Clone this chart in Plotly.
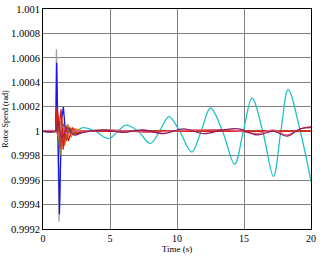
import plotly.graph_objects as go

# Time points / values
cyan_t = [0, 1.0, 1.2, 1.45, 1.75, 2.1, 3.0, 3.9, 4.9, 5.6, 6.2, 7.1, 8.0, 8.7, 9.4, 10.2, 11.1, 11.8, 12.5, 13.4, 14.3, 14.95, 15.6, 16.4, 17.2, 17.75, 18.3, 19.2, 20.0]
cyan_v = [1.0, 1.0, 1.00006, 0.99996, 1.00002, 0.99998, 1.00003, 1.0, 0.99994, 1.0, 1.00005, 1.0, 0.99990, 1.0, 1.00012, 1.0, 0.99983, 1.0, 1.00019, 1.0, 0.99973, 1.0, 1.00027, 1.0, 0.99963, 1.0, 1.00034, 1.0, 0.99959]

gray_t = [0, 0.95, 1.0, 1.2, 1.35, 1.5, 1.7, 2.0, 2.5, 20]
gray_v = [1.0, 1.0, 1.00067, 0.99926, 1.00008, 1.00004, 0.99996, 1.00001, 1.0, 1.0]

blue_t = [0, 0.95, 1.02, 1.23, 1.38, 1.52, 1.7, 1.95, 2.3, 3.0, 20]
blue_v = [1.0, 1.0, 1.00056, 0.99932, 1.00008, 1.00020, 0.99996, 1.0, 0.99998, 1.0, 1.0]

red_t = [0, 0.95, 1.05, 1.2, 1.35, 1.5, 1.7, 1.9, 2.2, 2.6, 3.2, 20]
red_v = [1.0, 1.0, 1.00020, 1.00003, 1.00018, 0.99985, 1.00005, 0.99992, 1.00003, 0.99998, 1.0, 1.0]

orange_t = [0, 0.95, 1.08, 1.25, 1.4, 1.6, 1.85, 2.1, 2.4, 3.0, 20]
orange_v = [1.0, 1.0, 1.00015, 0.99990, 1.00012, 0.99988, 1.00006, 0.99995, 1.00002, 1.0, 1.0]

olive_t = [0, 0.95, 1.1, 1.28, 1.45, 1.65, 1.9, 2.2, 2.6, 20]
olive_v = [1.0, 1.0, 1.00010, 0.99980, 1.00008, 0.99990, 1.00004, 0.99998, 1.0, 1.0]

brown_t = [0, 0.95, 1.12, 1.3, 1.5, 1.75, 2.0, 2.4, 2.9, 20]
brown_v = [1.0, 1.0, 1.00012, 0.99986, 1.00006, 0.99992, 1.00003, 0.99998, 1.0, 1.0]

purple_t = [0, 0.95, 1.1, 1.4, 1.8, 2.3, 3.0, 4.5, 6.0, 7.5, 9.0, 10.5, 12.0, 13.4, 14.6, 16.0, 17.2, 18.2, 19.2, 20.0]
purple_v = [1.0, 1.0, 1.00008, 0.99994, 1.00003, 0.99997, 0.99999, 1.00001, 0.99999, 1.00001, 0.99998, 1.00002, 0.99998, 1.00001, 1.00002, 0.99997, 1.00000, 0.99996, 1.00002, 1.00003]

pink_t = [0, 0.95, 1.15, 1.45, 1.8, 2.3, 3.0, 5.0, 8.0, 11.0, 14.0, 16.0, 17.2, 18.2, 19.2, 20.0]
pink_v = [1.0, 1.0, 0.99996, 1.00004, 0.99998, 1.0, 1.0, 1.00001, 0.99999, 1.00001, 1.00001, 0.99998, 1.00001, 0.99997, 1.00002, 1.00004]

x_ticks = [0, 5, 10, 15, 20]
y_ticks = [0.9992, 0.9994, 0.9996, 0.9998, 1.0, 1.0002, 1.0004, 1.0006, 1.0008, 1.001]
y_tick_text = ["0.9992", "0.9994", "0.9996", "0.9998", "1", "1.0002", "1.0004", "1.0006", "1.0008", "1.001"]

fig = go.Figure()
series = [
    (cyan_t, cyan_v, "#22C0C8", "spline"),
    (gray_t, gray_v, "#A0A0A0", "linear"),
    (blue_t, blue_v, "#1818E0", "linear"),
    (olive_t, olive_v, "#8A8A20", "linear"),
    (orange_t, orange_v, "#E07818", "linear"),
    (brown_t, brown_v, "#A05018", "linear"),
    (red_t, red_v, "#E01818", "linear"),
    (pink_t, pink_v, "#E06080", "spline"),
    (purple_t, purple_v, "#902060", "spline"),
]
for t, v, c, shp in series:
    fig.add_trace(go.Scatter(x=t, y=v, mode="lines",
                             line=dict(color=c, width=1.3, shape=shp),
                             showlegend=False, cliponaxis=True))

fig.update_layout(
    width=320, height=256,
    margin=dict(l=40, r=4, t=5, b=21),
    paper_bgcolor="white", plot_bgcolor="white",
    font=dict(family="Liberation Serif", size=10, color="black"),
)
fig.update_xaxes(range=[0, 20], tickvals=x_ticks, showgrid=True,
                 gridcolor="#808080", gridwidth=1, showline=True,
                 linecolor="black", linewidth=1, mirror=True, ticks="",
                 zeroline=False, ticklabeloverflow="allow",
                 title=dict(text="Time (s)", font=dict(size=9), standoff=2),
                 tickfont=dict(size=10))
fig.update_yaxes(range=[0.9992, 1.001], tickvals=y_ticks, ticktext=y_tick_text,
                 showgrid=True, gridcolor="#808080", gridwidth=1,
                 showline=True, linecolor="black", linewidth=1, mirror=True,
                 ticks="", zeroline=False, ticklabeloverflow="allow",
                 title=dict(text="Rotor Speed (rad)", font=dict(size=8), standoff=1),
                 tickfont=dict(size=10.5))

fig.write_html("out.html")
